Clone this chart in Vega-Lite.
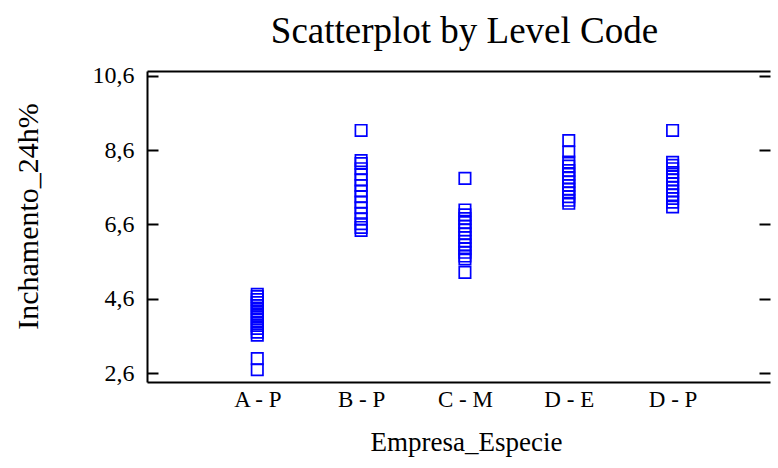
{
  "$schema": "https://vega.github.io/schema/vega-lite/v6.json",
  "autosize": "none",
  "width": 623,
  "height": 311,
  "padding": {"left": 147, "top": 71, "right": 8, "bottom": 86},
  "background": "white",
  "title": {"text": "Scatterplot by Level Code", "font": "Liberation Serif", "fontSize": 37, "fontWeight": "normal", "color": "black", "offset": 13, "dx": 6, "anchor": "middle"},
  "config": {"view": {"stroke": null}},
  "data": {"values": [
    {"grupo": "A - P", "valor": 4.72}, {"grupo": "A - P", "valor": 4.66}, {"grupo": "A - P", "valor": 4.58}, {"grupo": "A - P", "valor": 4.5},
    {"grupo": "A - P", "valor": 4.42}, {"grupo": "A - P", "valor": 4.33}, {"grupo": "A - P", "valor": 4.24}, {"grupo": "A - P", "valor": 4.15},
    {"grupo": "A - P", "valor": 4.06}, {"grupo": "A - P", "valor": 3.97}, {"grupo": "A - P", "valor": 3.88}, {"grupo": "A - P", "valor": 3.8},
    {"grupo": "A - P", "valor": 3.7}, {"grupo": "A - P", "valor": 3.62}, {"grupo": "A - P", "valor": 2.99}, {"grupo": "A - P", "valor": 2.69},
    {"grupo": "B - P", "valor": 9.13}, {"grupo": "B - P", "valor": 8.32}, {"grupo": "B - P", "valor": 8.24}, {"grupo": "B - P", "valor": 8.1},
    {"grupo": "B - P", "valor": 7.95}, {"grupo": "B - P", "valor": 7.8}, {"grupo": "B - P", "valor": 7.65}, {"grupo": "B - P", "valor": 7.5},
    {"grupo": "B - P", "valor": 7.35}, {"grupo": "B - P", "valor": 7.2}, {"grupo": "B - P", "valor": 7.05}, {"grupo": "B - P", "valor": 6.9},
    {"grupo": "B - P", "valor": 6.75}, {"grupo": "B - P", "valor": 6.62}, {"grupo": "B - P", "valor": 6.52}, {"grupo": "B - P", "valor": 6.44},
    {"grupo": "C - M", "valor": 7.84}, {"grupo": "C - M", "valor": 6.99}, {"grupo": "C - M", "valor": 6.86}, {"grupo": "C - M", "valor": 6.76},
    {"grupo": "C - M", "valor": 6.65}, {"grupo": "C - M", "valor": 6.55}, {"grupo": "C - M", "valor": 6.45}, {"grupo": "C - M", "valor": 6.35},
    {"grupo": "C - M", "valor": 6.25}, {"grupo": "C - M", "valor": 6.15}, {"grupo": "C - M", "valor": 6.05}, {"grupo": "C - M", "valor": 5.95},
    {"grupo": "C - M", "valor": 5.85}, {"grupo": "C - M", "valor": 5.75}, {"grupo": "C - M", "valor": 5.67}, {"grupo": "C - M", "valor": 5.31},
    {"grupo": "D - E", "valor": 8.86}, {"grupo": "D - E", "valor": 8.55}, {"grupo": "D - E", "valor": 8.28}, {"grupo": "D - E", "valor": 8.17},
    {"grupo": "D - E", "valor": 8.05}, {"grupo": "D - E", "valor": 7.95}, {"grupo": "D - E", "valor": 7.85}, {"grupo": "D - E", "valor": 7.75},
    {"grupo": "D - E", "valor": 7.65}, {"grupo": "D - E", "valor": 7.55}, {"grupo": "D - E", "valor": 7.45}, {"grupo": "D - E", "valor": 7.35},
    {"grupo": "D - E", "valor": 7.25}, {"grupo": "D - E", "valor": 7.17},
    {"grupo": "D - P", "valor": 9.13}, {"grupo": "D - P", "valor": 8.27}, {"grupo": "D - P", "valor": 8.19}, {"grupo": "D - P", "valor": 8.1},
    {"grupo": "D - P", "valor": 8.0}, {"grupo": "D - P", "valor": 7.9}, {"grupo": "D - P", "valor": 7.8}, {"grupo": "D - P", "valor": 7.7},
    {"grupo": "D - P", "valor": 7.6}, {"grupo": "D - P", "valor": 7.5}, {"grupo": "D - P", "valor": 7.4}, {"grupo": "D - P", "valor": 7.3},
    {"grupo": "D - P", "valor": 7.2}, {"grupo": "D - P", "valor": 7.07}
  ]},
  "resolve": {"axis": {"x": "independent", "y": "independent"}},
  "layer": [
    {
      "mark": {"type": "point", "shape": "square", "filled": false, "color": "#0000ff", "size": 130, "strokeWidth": 1.7, "opacity": 1},
      "encoding": {
        "x": {"field": "grupo", "type": "nominal", "sort": ["A - P", "B - P", "C - M", "D - E", "D - P"],
          "scale": {"type": "point", "padding": 1.115, "align": 0.531},
          "axis": {"orient": "bottom", "title": "Empresa_Especie", "labelAngle": 0, "ticks": false, "domainColor": "black", "domainWidth": 2,
            "labelFont": "Liberation Serif", "labelFontSize": 23, "labelColor": "black", "labelPadding": 6,
            "titleFont": "Liberation Serif", "titleFontSize": 27, "titleFontWeight": "normal", "titleColor": "black", "titlePadding": 18, "titleX": 319}},
        "y": {"field": "valor", "type": "quantitative",
          "scale": {"domain": [2.36, 10.73], "nice": false, "zero": false},
          "axis": {"orient": "left", "title": "Inchamento_24h%", "values": [2.6, 4.6, 6.6, 8.6, 10.6], "grid": false,
            "labelExpr": "replace(format(datum.value, '.1f'), '.', ',')",
            "domainColor": "black", "domainWidth": 2, "tickColor": "black", "tickWidth": 2, "tickSize": -11,
            "labelFont": "Liberation Serif", "labelFontSize": 24, "labelColor": "black", "labelPadding": 24,
            "titleFont": "Liberation Serif", "titleFontSize": 30, "titleFontWeight": "normal", "titleColor": "black", "titlePadding": 49, "titleY": 145}}
      }
    },
    {
      "mark": {"type": "point", "opacity": 0},
      "encoding": {
        "x": {"field": "grupo", "type": "nominal", "sort": ["A - P", "B - P", "C - M", "D - E", "D - P"],
          "axis": {"orient": "top", "title": null, "labels": false, "ticks": false, "domainColor": "black", "domainWidth": 2}},
        "y": {"field": "valor", "type": "quantitative",
          "axis": {"orient": "right", "title": null, "labels": false, "domain": false, "values": [2.6, 4.6, 6.6, 8.6, 10.6], "grid": false,
            "tickColor": "black", "tickWidth": 2, "tickSize": -11}}
      }
    }
  ]
}
